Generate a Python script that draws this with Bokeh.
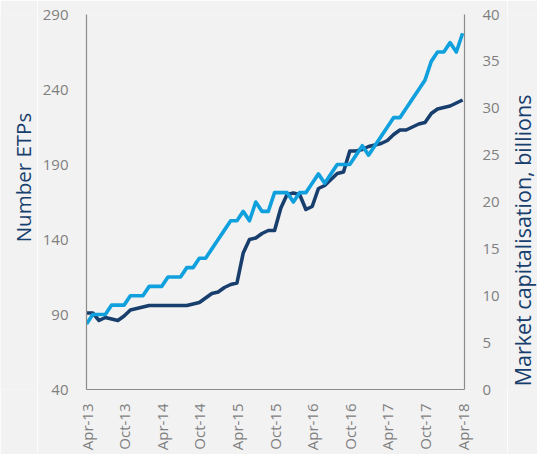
import math
from bokeh.plotting import figure
from bokeh.layouts import row
from bokeh.models import Range1d, LinearAxis, FixedTicker
from bokeh.core.properties import value
from bokeh.embed import file_html
from bokeh.resources import INLINE

# ---- data -------------------------------------------------------------
tick_labels = ["Apr-13", "Oct-13", "Apr-14", "Oct-14", "Apr-15", "Oct-15",
               "Apr-16", "Oct-16", "Apr-17", "Oct-17", "Apr-18"]
tick_months = [0, 6, 12, 18, 24, 30, 36, 42, 48, 54, 60]

number_etps = [91, 91, 86, 88, 87, 86, 89, 93, 94, 95, 96, 96, 96, 96, 96, 96,
               96, 97, 98, 101, 104, 105, 108, 110, 111, 131, 140, 141, 144,
               146, 146, 161, 170, 171, 170, 160, 162, 174, 176, 180, 184, 185,
               199, 199, 200, 202, 203, 204, 206, 210, 213, 213, 215, 217, 218,
               224, 227, 228, 229, 231, 233]

market_cap = [7, 8, 8, 8, 9, 9, 9, 10, 10, 10, 11, 11, 11, 12, 12, 12, 13, 13,
              14, 14, 15, 16, 17, 18, 18, 19, 18, 20, 19, 19, 21, 21, 21, 20,
              21, 21, 22, 23, 22, 23, 24, 24, 24, 25, 26, 25, 26, 27, 28, 29,
              29, 30, 31, 32, 33, 35, 36, 36, 37, 36, 38]

etp_ticks = [40, 90, 140, 190, 240, 290]
cap_ticks = [0, 5, 10, 15, 20, 25, 30, 35, 40]

left_title = "Number ETPs"
right_title = "Market capitalisation, billions"

months = list(range(len(number_etps)))

# ---- styling ----------------------------------------------------------
BG = "#f2f2f2"
DARK = "#173e6d"
LIGHT = "#0fa0dd"
GREY_AX = "#8c8c8c"
GREY_TXT = "#7f7f7f"
FONT = "Open Sans"
H = 454
WL, WR = 37, 30
WM = 537 - WL - WR
TOP, BOTTOM = 14, 65

p = figure(width=WM, height=H, output_backend="svg", toolbar_location=None,
           x_range=Range1d(0, 60.3), y_range=Range1d(40, 290),
           background_fill_color=BG, border_fill_color=BG,
           min_border_left=86 - WL, min_border_right=(537 - WR) - 464,
           min_border_top=TOP, min_border_bottom=BOTTOM)
p.outline_line_color = None
p.grid.visible = False
p.extra_y_ranges = {"cap": Range1d(0, 40)}

yl = p.yaxis[0]
yl.ticker = FixedTicker(ticks=etp_ticks)
xa = p.xaxis[0]
xa.ticker = FixedTicker(ticks=tick_months)
xa.major_label_overrides = {m: t for m, t in zip(tick_months, tick_labels)}
xa.major_label_orientation = math.pi / 2
yr = LinearAxis(y_range_name="cap", ticker=FixedTicker(ticks=cap_ticks))
p.add_layout(yr, "right")

for ax, so in ((yl, 18), (yr, 18), (xa, 14)):
    ax.axis_line_color = GREY_AX
    ax.axis_line_width = 1.2
    ax.major_tick_line_color = None
    ax.minor_tick_line_color = None
    ax.major_tick_out = 0
    ax.major_tick_in = 0
    ax.major_label_standoff = so
    ax.major_label_text_font = FONT
    ax.major_label_text_font_size = "15px"
    ax.major_label_text_color = GREY_TXT

p.line(months, number_etps, line_color=DARK, line_width=3.6, line_join="round")
p.line(months, market_cap, line_color=LIGHT, line_width=3.6, line_join="round",
       y_range_name="cap")


def title_panel(w, text, cx, yrange, cy, size):
    # narrow side panel holding a rotated axis title; its frame lines up with
    # the main plot's frame so cy is given in that axis' units
    q = figure(width=w, height=H, output_backend="svg", toolbar_location=None,
               x_range=Range1d(0, w), y_range=yrange,
               x_axis_location=None, y_axis_location=None,
               background_fill_color=BG, border_fill_color=BG,
               min_border_left=0, min_border_right=0,
               min_border_top=TOP, min_border_bottom=BOTTOM)
    q.outline_line_color = None
    q.grid.visible = False
    q.text(x=[cx], y=[cy], text=[text], angle=math.pi / 2,
           text_align="center", text_baseline="middle",
           text_font=value(FONT), text_font_size=size, text_color=DARK)
    return q


pl = title_panel(WL, left_title, 22.5, Range1d(40, 290), 181.3, "20.5px")
pr = title_panel(WR, right_title, 522 - (537 - WR), Range1d(0, 40), 15.9, "21.5px")

layout = row(pl, p, pr, spacing=0)
open("out.html", "w").write(file_html(layout, INLINE))
